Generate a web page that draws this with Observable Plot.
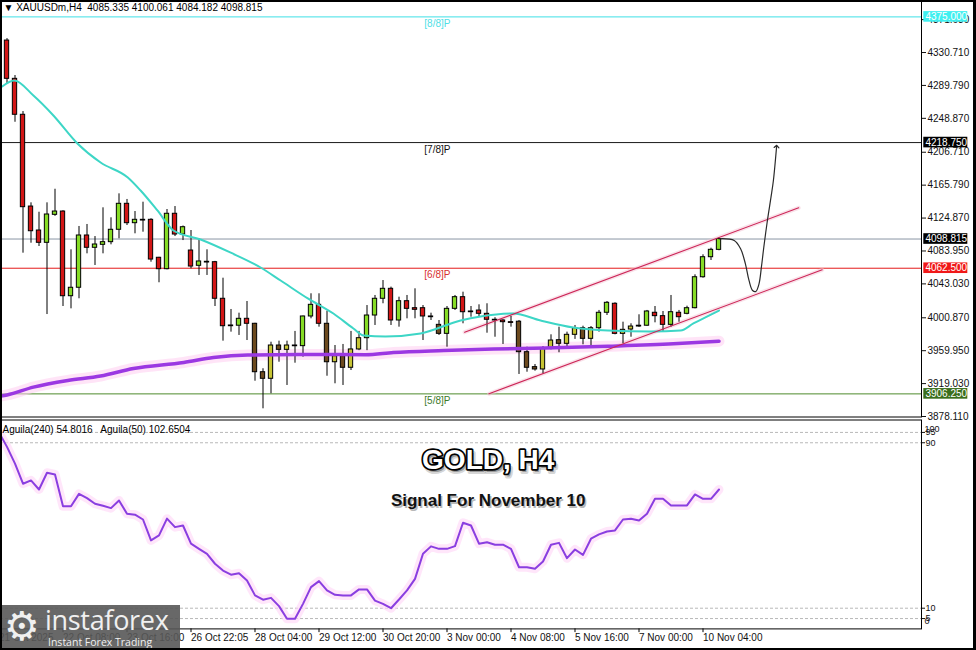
<!DOCTYPE html>
<html><head><meta charset="utf-8">
<script src="https://cdn.jsdelivr.net/npm/d3@7"></script>
<script src="https://cdn.jsdelivr.net/npm/@observablehq/plot@0.6"></script>
<style>
html,body{margin:0;padding:0;background:#fff;}
#wrap{position:relative;width:976px;height:650px;overflow:hidden;background:#fff;}
#wrap svg{display:block;}
#border{position:absolute;left:0;top:0;width:976px;height:650px;box-sizing:border-box;border:2px solid #000;border-right-width:3px;pointer-events:none;}
#logo{position:absolute;left:0;top:605px;width:180px;height:45px;background:rgba(88,88,88,0.9);color:#f0f0f0;font-family:"Open Sans","Liberation Sans",sans-serif;}
#logo .gear{position:absolute;left:4px;top:1px;font-size:40px;line-height:1;font-family:"DejaVu Sans",sans-serif;}
#logo .brand{position:absolute;left:45px;top:1px;font-size:27px;line-height:1.05;letter-spacing:-0.3px;}
#logo .tag{position:absolute;left:48px;top:32px;font-size:10.5px;line-height:1.1;}
</style></head>
<body><div id="wrap"></div>
<script>
// ---------- DATA ----------
const open = [4345.6,4298.0,4253.3,4139.2,4109.4,4094.1,4128.9,4133.0,4027.7,4038.2,
4103.2,4087.9,4091.6,4094.9,4110.3,4142.6,4118.5,4122.7,4122.7,4075.5,
4061.3,4130.2,4104.4,4084.5,4065.5,4070.5,4070.0,4024.5,3990.4,3991.0,
3999.6,3993.4,3933.2,3925.0,3966.4,3961.0,3966.4,3965.6,4002.5,4017.0,
3993.4,3945.6,3953.1,3938.7,3961.5,3975.5,4003.7,4024.5,4036.9,3997.5,
4021.5,4012.8,4012.8,4002.5,3992.1,3980.9,4012.0,4026.5,4007.8,4009.9,
4005.8,3998.4,3997.5,3995.4,3996.0,3958.1,3939.5,3936.6,3962.3,3973.0,
3968.5,3979.7,3987.9,3974.7,3987.9,4007.1,4018.3,3980.9,3986.3,3990.0,
3991.0,4007.1,4002.9,3992.1,4007.1,4005.8,4012.8,4051.3,4076.2,4085.335];
const high = [4348.0,4302.1,4257.3,4143.8,4132.1,4143.8,4160.7,4134.0,4085.4,4114.4,
4116.9,4101.9,4137.6,4125.2,4155.0,4148.0,4133.0,4144.6,4124.0,4076.0,
4135.5,4139.2,4115.0,4109.4,4099.1,4085.4,4071.0,4050.1,4011.2,4006.6,
4021.1,3994.0,3937.5,3970.5,3971.8,3971.8,3983.9,4003.0,4030.7,4030.7,
4009.1,3966.4,3967.7,3983.9,3983.9,4016.1,4028.6,4047.2,4039.0,4026.5,
4028.6,4036.9,4016.1,4006.6,3997.5,4014.9,4028.6,4032.7,4014.9,4017.0,
4018.3,4001.0,3998.4,4002.5,3997.5,3964.3,3942.8,3965.0,3979.7,3989.2,
3983.0,3991.3,3990.4,3990.0,4010.0,4021.1,4019.5,3995.4,3993.4,4004.6,
4010.0,4014.9,4008.7,4028.6,4010.0,4015.3,4054.3,4079.2,4087.4,4100.061];
const low = [4292.2,4244.0,4081.2,4093.6,4089.5,4004.9,4127.0,4014.9,4012.0,4024.5,
4080.4,4065.9,4080.4,4091.6,4099.1,4115.6,4105.3,4107.3,4070.0,4044.4,
4060.5,4101.9,4096.9,4061.8,4053.5,4053.5,4014.9,3971.8,3983.0,3978.9,
3972.6,3922.0,3887.7,3906.4,3945.6,3916.7,3944.4,3951.9,3999.6,3989.2,
3928.2,3918.8,3916.7,3935.3,3960.0,3960.0,3991.3,4018.3,3991.3,3989.2,
3999.6,3999.6,3972.6,3997.5,3978.9,3964.3,4010.0,3993.4,4001.6,4001.6,
3981.7,3976.7,3967.7,3989.2,3930.4,3933.2,3934.5,3931.0,3961.0,3957.4,
3963.0,3974.0,3967.3,3965.6,3983.0,4003.7,3979.7,3968.5,3976.7,3989.0,
3990.4,3994.6,3983.9,3989.2,3995.4,4004.6,4012.0,4050.1,4072.1,4084.182];
const close = [4298.0,4253.3,4138.4,4108.5,4094.1,4129.3,4133.0,4027.7,4038.2,4103.2,
4087.9,4092.0,4094.9,4110.3,4142.6,4118.5,4122.7,4122.3,4073.3,4061.3,
4130.2,4104.4,4113.5,4064.6,4070.9,4070.0,4024.5,3990.4,3991.0,3999.6,
3993.4,3933.2,3925.0,3966.4,3961.0,3966.4,3965.6,4002.5,4017.0,3993.4,
3945.6,3953.1,3938.7,3961.5,3975.5,4003.7,4024.5,4036.9,3997.5,4021.5,
4012.0,4010.8,4002.5,4001.6,3980.9,4012.0,4026.5,4007.8,4008.5,4005.8,
3998.4,3997.5,3995.4,3995.0,3958.1,3938.7,3936.6,3962.3,3972.6,3968.5,
3979.7,3987.9,3974.7,3987.9,4007.1,4019.5,3980.9,3985.9,3990.0,3991.0,
4008.7,4002.9,3992.1,4007.8,4001.6,4012.8,4051.3,4076.2,4085.4,4098.815];

// fast moving average (turquoise), read at bar positions
const maFastIdx = [-0.6,0.9,3.3,5.8,8.8,11.7,15.1,16.7,18.8,20.8,24.2,27.9,31.7,34.2,37.6,40.8,43.3,44.6,47.3,51.7,56.7,59.2,63.3,66.7,70.8,75.1,80.5,84.2,85.8,89];
const maFastVal = [4288.4,4295.9,4277.2,4252.4,4217.6,4193.9,4175.3,4159.1,4134.3,4109.4,4098.2,4082.1,4063.4,4047.2,4024.9,4006.2,3987.6,3978.9,3977.6,3981.4,3997.5,4002.5,4006.2,3997.5,3988.8,3985.1,3983.9,3985.1,3993.8,4009.9];
// slow moving average (purple)
const maSlowIdx = [-0.8,0,3.3,7.6,11.7,15.8,22.1,25.8,30.1,38.3,44.8,48.3,54.6,60.8,67.3,75.1,83.3,89];
const maSlowVal = [3903.5,3904.9,3914.6,3922.9,3928.5,3937.8,3945.3,3951.5,3954.6,3955.2,3955.0,3957.7,3960.2,3962.1,3963.3,3965.5,3968.5,3971.8];

// horizontal levels
const levelVals = [4375.0, 4218.75, 4098.815, 4062.5, 3906.25];
const levelColors = ["#3ee0e6", "#1a1a1a", "#8a96a4", "#e41a1a", "#4e8a2c"];
const boxColors = ["#3ff0f0", "#000000", "#000000", "#f01818", "#3a6e1c"];
const murreyText = ["[8/8]P", "[7/8]P", "[6/8]P", "[5/8]P"];
const murreyVals = [4375.0, 4218.75, 4062.5, 3906.25];
const murreyColors = ["#4fe0e6", "#111111", "#d83030", "#3b7a2a"];
const priceTicks = [4371.63,4330.71,4289.79,4248.87,4206.71,4165.79,4124.87,4083.95,4043.03,4000.87,3959.95,3919.03,3878.11];

// channel lines (bar index, price)
const chanKey = ["upper","upper","lower","lower"];
const chanIdx = [57.2, 98.96, 60.25, 101.9];
const chanVal = [3982.9, 4137.6, 3906.4, 4060.5];

// projected path arrow
const arrowIdx = [89.0,90.9,91.7,92.3,92.75,93.2,93.6,94.0,94.3,94.6,95.05,95.5,95.8,96.2];
const arrowVal = [4099.1,4097.0,4086.6,4068.0,4047.3,4034.8,4033.6,4043.1,4063.8,4088.6,4121.8,4150.8,4171.6,4213.9];

// oscillator (bars -1 .. 89)
const osc = [95,88,79.9,70.2,71.8,67.4,75.5,74.7,59.3,59.3,65.3,
63.2,60.5,59.5,58.4,62.1,55.7,55.2,52.9,42.8,45.2,
53.3,49.2,50.0,41.2,38.7,36.3,31.5,28.2,26.2,26.9,
23.4,16.2,14.1,15.0,11.0,4.9,4.9,12.1,20.2,23.1,
18.6,16.5,16.2,16.2,19.1,19.1,13.7,12.1,10.0,14.2,
18.6,24.2,36.3,39.9,38.7,38.7,40.0,51.3,50.0,41.2,
41.9,40.7,40.7,38.7,29.8,29.8,29.1,32.6,40.7,41.6,
34.2,38.4,35.8,43.6,45.7,47.1,47.6,52.9,53.3,52.4,
55.7,62.9,62.9,59.7,59.7,59.7,65.0,62.9,62.9,67.4];
const oscLevels = [95, 90, 10, 5];

// time axis
const dateIdx = [-1,7,15,23,31,39,47,55,63,71,79,87];
const dateLabels = ["21 Oct 2025","22 Oct 08:00","23 Oct 16:00","26 Oct 22:05","28 Oct 04:00","29 Oct 12:00","30 Oct 20:00","3 Nov 00:00","4 Nov 08:00","5 Nov 16:00","7 Nov 00:00","10 Nov 04:00"];

// texts
const headerText = "▼ XAUUSDm,H4  4085.335 4100.061 4084.182 4098.815";
const legendText = "Aguila(240) 54.8016   Aguila(50) 102.6504";
const titleText = ["GOLD, H4"];
const subtitleText = ["Signal For November 10"];

// ---------- BUILD ----------
const FONT = "Liberation Sans, Arial, Helvetica, sans-serif";
const X_DOMAIN = [-0.8125, 114.3125];
const candles = open.map((o, k) => ({i: k, o, h: high[k], l: low[k], c: close[k]}));
const maFast = maFastIdx.map((i, k) => ({i, v: maFastVal[k]}));
const maSlow = maSlowIdx.map((i, k) => ({i, v: maSlowVal[k]}));
const maSlowAt = d3.scaleLinear().domain(maSlowIdx).range(maSlowVal).clamp(true);
const levels = levelVals.map((v, k) => ({v, color: levelColors[k], box: boxColors[k], label: v.toFixed(3)}));
const murrey = murreyText.map((t, k) => ({t, v: murreyVals[k], color: murreyColors[k]}));
const chan = chanIdx.map((i, k) => ({i, v: chanVal[k], k: chanKey[k]}));
const arrow = arrowIdx.map((i, k) => ({i, v: arrowVal[k]}));
const oscPts = osc.map((v, k) => ({i: k - 1, v}));
const dates = dateIdx.map((i, k) => ({i, label: dateLabels[k]}));

function bodyColor(d) {
  const near = Math.abs((d.o + d.c) / 2 - maSlowAt(d.i)) < 28.5;
  const up = d.c >= d.o;
  if (up) return near ? "#c6c434" : "#86dc26";
  return near ? "#6c4a1e" : "#d21616";
}

const AXIS_X = 114.8;

const mainSvg = Plot.plot({
  width: 976, height: 418,
  marginLeft: 0, marginRight: 55, marginTop: 0, marginBottom: 1.5,
  x: {domain: X_DOMAIN, axis: null},
  y: {domain: [3877.5, 4395.4], axis: "right", ticks: priceTicks, tickFormat: d => d.toFixed(3), tickSize: 4, tickPadding: 2, label: null},
  style: {fontFamily: FONT, fontSize: "10px", color: "#111", background: "#fff", overflow: "visible"},
  marks: [
    Plot.ruleY(levels, {y: "v", stroke: "color", strokeWidth: 1}),
    Plot.line(maSlow, {x: "i", y: "v", stroke: "#ffcdf0", strokeWidth: 11, strokeOpacity: 0.55, curve: "monotone-x"}),
    Plot.line(chan, {x: "i", y: "v", z: "k", stroke: "#f4c4d4", strokeWidth: 4, strokeOpacity: 0.5}),
    Plot.ruleX(candles, {x: "i", y1: "l", y2: "h", stroke: "#000", strokeWidth: 1}),
    Plot.rect(candles, {
      x1: d => d.i - 0.27, x2: d => d.i + 0.27,
      y1: "o", y2: d => Math.abs(d.c - d.o) < 0.9 ? d.o + (d.c >= d.o ? 0.9 : -0.9) : d.c,
      fill: bodyColor, stroke: "#000", strokeWidth: 1
    }),
    Plot.line(maFast, {x: "i", y: "v", stroke: "#3dd6c6", strokeWidth: 2, curve: "monotone-x"}),
    Plot.line(maSlow, {x: "i", y: "v", stroke: "#9b38e2", strokeWidth: 3.5, curve: "monotone-x"}),
    Plot.line(chan, {x: "i", y: "v", z: "k", stroke: "#cc2456", strokeWidth: 1.1}),
    Plot.line(arrow, {x: "i", y: "v", stroke: "#2a2a2a", strokeWidth: 1.2, curve: "catmull-rom", markerEnd: "arrow"}),
    Plot.text(murrey, {x: 53.8, y: "v", text: "t", fill: "color", dy: 7, fontSize: 10}),
    Plot.rect(levels, {x1: 114.6, x2: 120.1, y1: d => d.v - 6.6, y2: d => d.v + 6.6, fill: "box"}),
    Plot.text(levels, {x: AXIS_X, y: "v", text: "label", fill: "#fff", textAnchor: "start", fontSize: 10}),
    Plot.frame({stroke: "#000"}),
    Plot.text([headerText], {frameAnchor: "top-left", text: d => d, dx: 3, dy: 7, lineAnchor: "middle", fontSize: 10, fill: "#000"})
  ]
});

const lowerSvg = Plot.plot({
  width: 976, height: 232,
  marginLeft: 0, marginRight: 55, marginTop: 1.5, marginBottom: 21.6,
  x: {domain: X_DOMAIN, axis: null},
  y: {domain: [0, 101], axis: "right", ticks: oscLevels, tickSize: 3, tickPadding: 1, label: null},
  style: {fontFamily: FONT, fontSize: "9px", color: "#111", background: "transparent"},
  marks: [
    Plot.ruleY(oscLevels, {y: d => d, stroke: "#b8b8b8", strokeDasharray: "3,2"}),
    Plot.line(oscPts, {x: "i", y: "v", stroke: "#ffd6f6", strokeWidth: 9, strokeOpacity: 0.6}),
    Plot.line(oscPts, {x: "i", y: "v", stroke: "#8a3ee0", strokeWidth: 2}),
    Plot.text(["100"], {x: AXIS_X - 0.1, y: 100, dy: 7, text: d => d, textAnchor: "start", fontSize: 9}),
    Plot.text(["0"], {x: AXIS_X - 0.1, y: 0, dy: -8, text: d => d, textAnchor: "start", fontSize: 9}),
    Plot.ruleX(dates, {x: "i", y1: 0, y2: -1.8, stroke: "#000"}),
    Plot.text(dates, {x: "i", y: 0, dy: 9, text: "label", textAnchor: "start", fontSize: 10, fill: "#111"}),
    Plot.text([legendText], {frameAnchor: "top-left", text: d => d, dx: 2, dy: 9.5, lineAnchor: "middle", fontSize: 10, fill: "#000"}),
    // title with shadow
    Plot.text(titleText, {x: 60.15, y: 81.7, text: d => d, dx: 2, dy: 3, fontSize: 28, fontWeight: "bold", fill: "#666", fillOpacity: 0.55, stroke: "#888", strokeOpacity: 0.35, strokeWidth: 4}),
    Plot.text(titleText, {x: 60.15, y: 81.7, text: d => d, fontSize: 28, fontWeight: "bold", fill: "#fff", stroke: "#000", strokeWidth: 3.5}),
    Plot.text(subtitleText, {x: 60.15, y: 62.1, text: d => d, dx: 1.5, dy: 2, fontSize: 17, fontWeight: "bold", fill: "#999", fillOpacity: 0.7}),
    Plot.text(subtitleText, {x: 60.15, y: 62.1, text: d => d, fontSize: 17, fontWeight: "bold", fill: "#111"}),
    Plot.frame({stroke: "#000"})
  ]
});

const wrap = document.getElementById("wrap");
wrap.appendChild(mainSvg);
wrap.appendChild(lowerSvg);
const logo = document.createElement("div");
logo.id = "logo";
logo.innerHTML = '<div class="gear">⚙</div><div class="brand">instaforex</div><div class="tag">Instant Forex Trading</div>';
wrap.appendChild(logo);
const border = document.createElement("div");
border.id = "border";
wrap.appendChild(border);
</script>
</body></html>
